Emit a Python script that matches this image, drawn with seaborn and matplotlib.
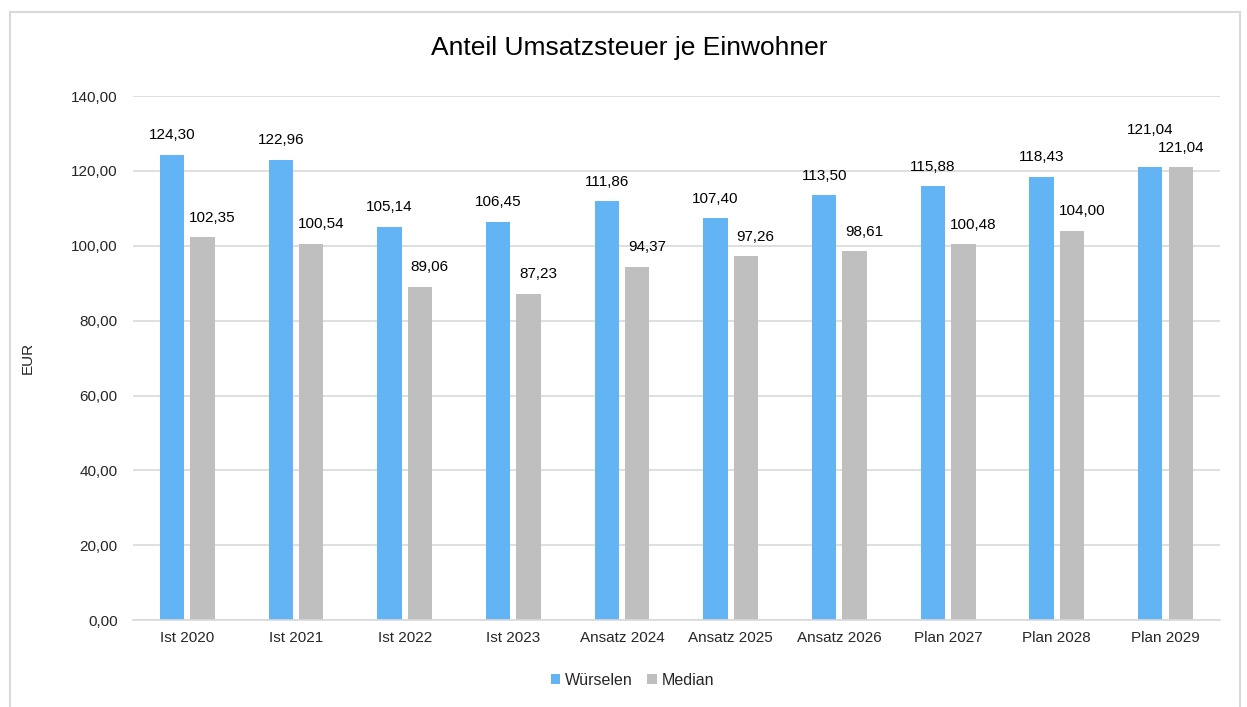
import numpy as np
import pandas as pd
import matplotlib
matplotlib.use("Agg")
import matplotlib.pyplot as plt
import seaborn as sns
from matplotlib.patches import Rectangle

categories = ["Ist 2020", "Ist 2021", "Ist 2022", "Ist 2023", "Ansatz 2024",
              "Ansatz 2025", "Ansatz 2026", "Plan 2027", "Plan 2028", "Plan 2029"]
wuerselen = [124.30, 122.96, 105.14, 106.45, 111.86, 107.40, 113.50, 115.88, 118.43, 121.04]
median = [102.35, 100.54, 89.06, 87.23, 94.37, 97.26, 98.61, 100.48, 104.00, 121.04]
series = ["Würselen", "Median"]
colors = ["#63B4F4", "#BFBFBF"]

df = pd.DataFrame({
    "Kategorie": categories * 2,
    "Serie": [series[0]] * len(categories) + [series[1]] * len(categories),
    "Wert": wuerselen + median,
})

sns.set_theme(style="white")
plt.rcParams["font.family"] = ["Liberation Sans", "DejaVu Sans"]

fig = plt.figure(figsize=(12.47, 7.07), dpi=100)
ax = fig.add_axes([0.1067, 0.123, 0.8715, 0.741])

sns.barplot(data=df, x="Kategorie", y="Wert", hue="Serie", palette=colors,
            width=0.56, gap=0.2, ax=ax, legend=True, saturation=1, linewidth=0)

ax.set_ylim(0, 140)
ax.set_yticks(np.arange(0, 141, 20))
ax.set_yticklabels([f"{v:.2f}".replace(".", ",") for v in np.arange(0, 141, 20)], fontsize=11)
ax.tick_params(axis="x", labelsize=11, length=0, pad=8)
ax.tick_params(axis="y", length=0, pad=11)
ax.grid(axis="y", color="#D9D9D9", linewidth=1.2)
ax.set_axisbelow(True)
for s in ["top", "right", "left"]:
    ax.spines[s].set_visible(False)
ax.spines["bottom"].set_color("#D9D9D9")
ax.spines["bottom"].set_linewidth(1.2)
ax.set_xlabel("")
ax.set_ylabel("EUR", fontsize=11, labelpad=26)

n = len(categories)
for i, cont in enumerate(ax.containers):
    for j, bar in enumerate(cont):
        h = bar.get_height()
        xc = bar.get_x() + bar.get_width() / 2
        dx, dy = 0, 9
        if i == 1 and j != n - 1:
            dx = 7
        if i == 0 and j == n - 1:
            dy = 22
        ax.annotate(f"{h:.2f}".replace(".", ","), (xc, h), xytext=(dx, dy),
                    textcoords="offset points", ha="center", va="bottom",
                    fontsize=11, color="#000000")

handles, labels = ax.get_legend_handles_labels()
ax.legend_.remove()
fig.legend(handles, labels, loc="center", bbox_to_anchor=(0.507, 0.038), ncol=2, frameon=False,
           fontsize=11.5, handlelength=0.6, handleheight=0.6, handletextpad=0.3,
           columnspacing=0.9)

fig.text(0.505, 0.932, "Anteil Umsatzsteuer je Einwohner", ha="center", va="center",
         fontsize=19, color="#000000")

fig.patches.append(Rectangle((10 / 1247, -0.05), 1230 / 1247, 1 - 12 / 707 + 0.05,
                             transform=fig.transFigure, fill=False,
                             edgecolor="#D9D9D9", linewidth=1.5))

fig.savefig("out.png", dpi=100)
